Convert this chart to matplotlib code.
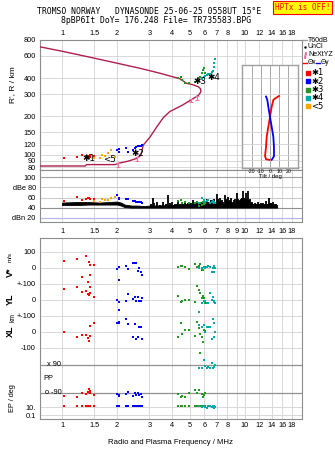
import matplotlib.pyplot as plt
from matplotlib.lines import Line2D

plt.rcParams['font.family'] = ['Liberation Sans', 'DejaVu Sans']

# ---------------- data ----------------
tick_f = [1, 1.5, 2, 3, 4, 5, 6, 7, 8, 9, 10, 12, 14, 16, 18]
lab_outer = ['1', '1.5', '2', '3', '4', '5', '6', '7', '8', '', '10', '12', '14', '16', '18']
lab_mid = ['1', '1.5', '2', '3', '4', '5', '6', '7', '8', '9', '10', '12', '14', '16', '18']
h_ticks = [80, 90, 100, 120, 150, 200, 300, 400, 600, 800]

# true-height profile (plasma frequency MHz, height km)
prof_f = [0.75, 1.34, 1.36, 1.95, 2.03, 2.30, 2.56, 2.70, 2.78, 3.03, 3.29, 3.58, 3.89,
          4.51, 5.01, 5.56, 5.74, 5.72, 5.56, 5.21, 4.80, 4.41, 3.43, 2.67, 1.61, 1.02, 0.75]
prof_h = [81.5, 81.5, 83.6, 83.6, 85.5, 89, 93.5, 99.3, 119, 138, 165, 196, 219,
          244, 267, 293, 312, 330, 343, 355, 365, 396, 438, 479, 563, 649, 709]
nex_f = [2.03, 2.56, 5.07, 5.48]
nex_h = [83, 93, 267, 280]
nex_err = [3, 3.5, 9, 9]

# echoes, class *1 (red)
red_f = [1.03, 1.20, 1.28, 1.36, 1.39, 1.41, 1.42, 1.43, 1.50]
red_h = [94.6, 96.3, 99.8, 97, 98, 95, 96, 99, 97]
red_dbe = [53, 62, 55, 57, 59, 59, 57, 58, 57]
red_v = [46, 56, -54, 77, -89, 37, 21, -42, 21]
red_yl = [69, 83, 52, 58, 37, 31, 42, 83, 21]
red_xl = [0, -29, -21, -19, -40, -54, 37, -25, 58]
red_pp = [-107, -118, -92, -96, -81, -62, -75, -88, -105]
red_ep = [20, 21, 19, 20, 22, 20, 19, 21, 20]

# class <5 (orange)
or_f = [1.50, 1.61, 1.65, 1.72, 1.79, 1.85, 1.95]
or_h = [94.6, 94.6, 100, 97.5, 104, 109, 96.3]
or_dbe = [53, 51, 57, 55, 55, 60, 62]

# class *2 (blue)
bl_f = [2.01, 2.04, 2.06, 2.23, 2.29, 2.45, 2.50, 2.54, 2.61, 2.65, 2.70, 2.74]
bl_h = [108.6, 110, 104.8, 112.9, 104.8, 108.8, 112, 114, 116.3, 117, 118, 119.5]
bl_dbe = [64, 60, 57, 58, 57, 54, 53, 52, 51, 52, 51, 50]
bl_v = [-8, 5, -75, 14, -8, 29, 30, 33, -17, -2, -23, -44]
bl_yl = [0, -10, -62, -6, 37, 6, 17, -4, 21, -6, -4, 10]
bl_xl = [58, 60, 55, 81, 50, -29, 50, -46, -29, 33, 29, -46]
bl_pp = [-95, -100, -110, -98, -85, -110, -92, -100, -88, -105, -95, -115]
bl_ep = [19, 21, 20, 19, 21, 20, 19, 21, 20, 19, 21, 20]

# class *3 (green)
gr_f = [4.30, 4.45, 4.55, 4.73, 4.97, 5.33, 5.48, 5.60, 5.67, 5.80, 5.91, 5.97, 6.04]
gr_h = [405, 411, 387, 365, 365, 372, 387, 405, 411, 436, 464, 481, 436]
gr_dbe = [53, 55, 50, 51, 49, 49, 52, 43, 50, 45, 51, 48, 50]
gr_v = [4, 14, 12, 8, -8, 25, 8, 14, 25, -12, -12, 4, 8]
gr_yl = [25, -15, -6, 0, 0, -15, 90, 62, 42, 10, 25, 10, -21]
gr_xl = [-33, 58, -15, 12, 12, -25, 64, 23, -15, -29, -60, 12, 5]
gr_pp = [-98, -114, -107, -114, -88, -71, -92, -71, 165, -98, -114, -100, -90]
gr_ep = [20, 21, 19, 20, 21, 20, 19, 21, 20, 19, 21, 20, 19]

# class *4 (cyan)
cy_f = [5.62, 5.80, 5.99, 6.04, 6.17, 6.29, 6.43, 6.57, 6.70, 6.75, 6.80, 6.85]
cy_h = [382, 395, 410, 419, 425, 430, 432, 445, 458, 492, 528, 568]
cy_dbe = [49, 59, 55, 52, 53, 55, 49, 52, 53, 50, 51, 49]
cy_v = [-2, -2, 8, -2, 8, 12, 8, -23, -2, -23, 12, -2]
cy_yl = [-73, -17, -6, -6, -21, -17, 42, 0, 17, -10, -6, -21]
cy_xl = [44, 33, 44, 2, 33, 29, 29, -46, 81, 54, -29, 0]
cy_pp = [69, 73, 122, 84, 73, 79, 69, 101, 69, 80, 75, 90]
cy_ep = [17, 8, 20, 12, 6, 18, 20, 9, 18, 7, 20, 12]

# class labels on the ionogram
cls_lab = ['✱1', '<5', '✱2', '✱3', '✱4']
cls_lab_f = [1.40, 1.83, 2.60, 5.67, 6.77]
cls_lab_h = [92.8, 92, 103, 377, 407]

# amplitude band (dB) and spikes
band_f = [1.0, 1.2, 1.4, 1.6, 1.8, 2.0, 2.1, 2.2, 2.4, 2.6, 2.8, 3.0, 4.0, 6.0, 8.0, 10.0, 12.0, 15.0]
band_lo = [45, 45, 46, 46, 46, 46, 44, 41, 40, 40, 40, 40, 40, 40, 40, 40, 40, 40]
band_hi = [50, 51, 51, 50, 51, 52, 50, 46, 44, 44, 43, 44, 45, 47, 48, 48, 46, 45]
spike_f = [3.05, 3.13, 3.2, 3.3, 3.45, 3.58, 3.7, 3.81, 3.9, 3.97,
           4.05, 4.15, 4.25, 4.32, 4.42, 4.5, 4.6, 4.7, 4.8, 4.9,
           5.0, 5.1, 5.21, 5.35, 5.5, 5.65, 5.8, 5.9, 6.05, 6.2,
           6.35, 6.5, 6.62, 6.75, 6.88, 7.0, 7.08, 7.15, 7.22, 7.3,
           7.4, 7.5, 7.62, 7.77, 7.86, 7.95, 8.03, 8.1, 8.2, 8.3,
           8.37, 8.44, 8.55, 8.7, 8.85, 9.0, 9.1, 9.2, 9.3, 9.38,
           9.5, 9.6, 9.7, 9.78, 9.9, 10.0, 10.1, 10.25, 10.4, 10.5,
           10.6, 10.75, 10.9, 11.1, 11.3, 11.55, 11.8, 12.0, 12.2, 12.4,
           12.6, 12.85, 13.1, 13.3, 13.5, 13.7, 13.9, 14.1, 14.3, 14.55,
           14.8]
spike_top = [47, 59, 50, 52, 46, 52, 47, 65, 50, 52,
             46, 48, 47, 55, 48, 50, 47, 52, 47, 49,
             47, 50, 55, 48, 50, 48, 52, 50, 53, 57,
             52, 56, 52, 58, 50, 67, 54, 58, 52, 59,
             53, 55, 51, 65, 55, 57, 52, 62, 54, 56,
             51, 59, 52, 55, 57, 69, 56, 57, 53, 55,
             58, 60, 55, 72, 60, 58, 69, 57, 72, 55,
             58, 50, 52, 48, 50, 47, 52, 48, 49, 47,
             50, 48, 53, 48, 59, 49, 50, 47, 52, 47,
             47]

# tilt inset
tx_h = [287, 274, 267, 236, 197, 165, 138, 115, 97.5, 92, 91]
tx_deg = [9.8, 5.4, 3.6, 1.8, 0, -1.8, -3.6, -4.3, -5.4, -4.3, -0.8]
ty_h = [284, 267, 236, 197, 165, 138, 115, 97, 91]
ty_deg = [-4.3, -2.9, -1.8, 0, 1.8, 3.6, 4.3, 4.3, 1.8]

RED, BLUE, GREEN, CYAN, ORANGE = '#ff0000', '#0000ff', '#229922', '#00aaaa', '#ffa500'
PROF, PINK = '#b0204c', '#f070a0'
GRID, FRAME = '#d2d2d2', '#8c8c8c'

# ---------------- layout ----------------
W, H = 335, 451
fig = plt.figure(figsize=(W / 100, H / 100), dpi=100)


def rect(x0, y0, x1, y1):
    return [x0 / W, 1 - y1 / H, (x1 - x0) / W, (y1 - y0) / H]


def ftext(x, y, s, **kw):
    kw.setdefault('fontsize', 5.3)
    fig.text(x / W, 1 - y / H, s, **kw)


XLIM = (0.758, 20.5)


def freq_axis(ax, labels):
    ax.set_xscale('log')
    ax.set_xlim(*XLIM)
    ax.set_xticks(tick_f)
    ax.set_xticklabels(labels)
    ax.minorticks_off()
    ax.tick_params(length=0, labelsize=5.3)
    for s in ax.spines.values():
        s.set_color(FRAME)
    for f in tick_f:
        ax.axvline(f, color=GRID, lw=0.6, zorder=0)


# title
ftext(149, 12, 'TROMSO NORWAY   DYNASONDE 25-06-25 0558UT 15°E', ha='center', va='center',
      family='DejaVu Sans Mono', fontsize=5.9)
ftext(156, 20.5, '8pBP6It DoY= 176.248 File= TR735583.BPG', ha='center', va='center',
      family='DejaVu Sans Mono', fontsize=5.9)
ftext(302.5, 7.5, 'HPTx is OFF!', ha='center', va='center', family='DejaVu Sans Mono',
      fontsize=5.5, color='red',
      bbox=dict(boxstyle='square,pad=0.2', facecolor='yellow', edgecolor='red', lw=0.8))

# ---- ionogram panel ----
ax1 = fig.add_axes(rect(40, 40, 302, 170))
ax1.set_yscale('log')
freq_axis(ax1, lab_outer)
ax1.xaxis.tick_top()
ax1.tick_params(axis='x', pad=2)
ax1.set_ylim(75.8, 786)
ax1.set_yticks(h_ticks)
ax1.set_yticklabels([str(t) for t in h_ticks])
ax1.minorticks_off()
ax1.tick_params(axis='y', length=0, pad=3)
for h in h_ticks:
    ax1.axhline(h, color=GRID, lw=0.6, zorder=0)
ax1.plot(prof_f, prof_h, color=PROF, lw=1.0, zorder=3)
ax1.errorbar(nex_f, nex_h, yerr=nex_err, fmt='none', ecolor=PINK, elinewidth=0.8,
             capsize=1.5, capthick=0.8, zorder=4)
for f, h, c in [(red_f, red_h, RED), (or_f, or_h, ORANGE), (bl_f, bl_h, BLUE),
                (gr_f, gr_h, GREEN), (cy_f, cy_h, CYAN)]:
    ax1.scatter(f, h, s=4, marker='s', c=c, lw=0, zorder=5)
for lab, f, h in zip(cls_lab, cls_lab_f, cls_lab_h):
    ax1.text(f, h, lab, fontsize=6.3, ha='center', va='center', color='black',
             family='DejaVu Sans', zorder=6)
fig.text(13 / W, 1 - 85 / H, "R', R / km", rotation=90, ha='center', va='center', fontsize=6)

# ---- amplitude panel ----
ax2 = fig.add_axes(rect(40, 170, 302, 222))
freq_axis(ax2, lab_mid)
ax2.tick_params(axis='x', pad=4)
ax2.set_ylim(11.4, 114.6)
ax2.set_yticks([20, 40, 60, 80, 100])
ax2.set_yticklabels(['dBn 20', '40', '60', 'dBe 80', '100'])
ax2.tick_params(axis='y', length=0, pad=3)
for y, c in [(100, '#a0a0a0'), (80, '#cccccc'), (60, '#cccccc'), (40, '#909090'), (20, '#b4b4e6')]:
    ax2.axhline(y, color=c, lw=0.8, zorder=0)
ax2.fill_between(band_f, band_lo, band_hi, color='black', lw=0.6, zorder=2)
ax2.vlines(spike_f, 40, spike_top, color='black', lw=1.3, zorder=2)
for f, d, c in [(red_f, red_dbe, RED), (or_f, or_dbe, ORANGE), (bl_f, bl_dbe, BLUE),
                (gr_f, gr_dbe, GREEN), (cy_f, cy_dbe, CYAN)]:
    ax2.scatter(f, d, s=4, marker='s', c=c, lw=0, zorder=5)

# ---- lower multi-band panel (y in pixel rows) ----
TOP, BOT = 238, 419
ax3 = fig.add_axes(rect(40, TOP, 302, BOT))
freq_axis(ax3, lab_outer)
ax3.tick_params(axis='x', pad=2)
ax3.set_ylim(BOT, TOP)
rows = [252, 268, 284, 300, 316, 332, 348, 407, 415]
ax3.set_yticks(rows)
ax3.set_yticklabels(['100', '0', '+-100', '0', '+-100', '0', '-100', '10.', '0.1'])
ax3.tick_params(axis='y', length=0, pad=3)
for r in rows:
    ax3.axhline(r, color=GRID, lw=0.6, zorder=0)
for r in (365, 393):
    ax3.axhline(r, color='#909090', lw=0.9, zorder=0)
ax3.set_xlabel('Radio and Plasma Frequency / MHz', fontsize=5.6, labelpad=7)
ax3.text(0.9, 365, 'x 90', fontsize=5.3, ha='center', va='center')
ax3.text(0.9, 393, 'o -90', fontsize=5.3, ha='center', va='center')
ax3.text(0.84, 379, 'PP', fontsize=5.3, ha='center', va='center')


def band(center_px, px_per_unit, log=False):
    b = ax3.inset_axes([0, 0, 1, 1])
    b.set_xscale('log')
    b.set_xlim(*XLIM)
    if log:
        b.set_yscale('log')
        b.set_ylim(10 ** (1 - (BOT - center_px) / px_per_unit),
                   10 ** (1 + (center_px - TOP) / px_per_unit))
    else:
        b.set_ylim((center_px - BOT) / px_per_unit, (center_px - TOP) / px_per_unit)
    b.axis('off')
    return b


bv = band(268, 0.16)
byl = band(300, 0.16)
bxl = band(332, 0.16)
bpp = band(365 + 90 * 28 / 180, 28 / 180)
bep = band(407, 4, log=True)
classes = [(red_f, red_v, red_yl, red_xl, red_pp, red_ep, RED),
           (bl_f, bl_v, bl_yl, bl_xl, bl_pp, bl_ep, BLUE),
           (gr_f, gr_v, gr_yl, gr_xl, gr_pp, gr_ep, GREEN),
           (cy_f, cy_v, cy_yl, cy_xl, cy_pp, cy_ep, CYAN)]
for f, v, yl, xl, pp, ep, c in classes:
    for b, vals in [(bv, v), (byl, yl), (bxl, xl), (bpp, pp), (bep, ep)]:
        b.scatter(f, vals, s=4, marker='s', c=c, lw=0)

ftext(10, 272, 'V*', rotation=90, ha='center', va='center', fontsize=6.5, weight='bold')
ftext(10, 257, 'm/s', rotation=90, ha='center', va='center', fontsize=4.5)
ftext(10, 299, 'YL', rotation=90, ha='center', va='center', fontsize=6.5, weight='bold')
ftext(13, 318, 'km', rotation=90, ha='center', va='center', fontsize=4.8)
ftext(10, 331, 'XL', rotation=90, ha='center', va='center', fontsize=6.5, weight='bold')
ftext(13, 398, 'EP / deg', rotation=90, ha='center', va='center', fontsize=5.3)

# ---- tilt inset ----
axi = fig.add_axes(rect(242, 65, 298, 168), zorder=8)
axi.set_yscale('log')
axi.set_xlim(-30.4, 30.4)
axi.set_ylim(78.6, 501)
axi.set_xticks([-20, -10, 0, 10, 20])
axi.set_xticklabels(['-20', '-10', '0', '10', '20'])
axi.set_yticks([])
axi.minorticks_off()
axi.tick_params(length=0, labelsize=3.8, pad=1)
axi.set_xlabel('Tilt / deg', fontsize=4.3, labelpad=0)
for s in axi.spines.values():
    s.set_color('#a0a0a0')
    s.set_linewidth(1.0)
for t in [-20, -10, 0, 10, 20]:
    axi.axvline(t, color='#9a9a9a', lw=0.6, zorder=0)
for h in h_ticks:
    axi.axhline(h, color=GRID, lw=0.6, zorder=0)
axi.plot(tx_deg, tx_h, color=RED, lw=1.3)
axi.plot(ty_deg, ty_h, color=BLUE, lw=1.3)

# ---- legend (right margin) ----
lx = 303


def seg(x0, x1, y, color, lw=1.0):
    fig.add_artist(Line2D([x0 / W, x1 / W], [1 - y / H, 1 - y / H], color=color, lw=lw))


seg(lx, lx + 4, 40, '#a0a0a0')
ftext(lx + 5, 40, 'T60dB', va='center', fontsize=5.0)
fig.add_artist(Line2D([(lx + 2) / W], [1 - 47 / H], marker='.', ms=1.5, color='black'))
ftext(lx + 5, 47, 'UnCl', va='center', fontsize=5.0)
fig.add_artist(Line2D([(lx + 2) / W], [1 - 55 / H], marker='$I$', ms=4, color=PINK))
ftext(lx + 5, 55, 'NeXtYZ', va='center', fontsize=5.0)
seg(lx, lx + 4, 63, RED)
ftext(lx + 4.5, 63, 'Θx', va='center', fontsize=4.8)
seg(lx + 13, lx + 17, 63, BLUE)
ftext(lx + 17.5, 63, 'Θy', va='center', fontsize=4.8)
for i, (lab, c) in enumerate([('✱1', RED), ('✱2', BLUE), ('✱3', GREEN), ('✱4', CYAN), ('<5', ORANGE)]):
    y = 72.7 + i * 8.4
    fig.add_artist(Line2D([(lx + 4.5) / W], [1 - y / H], marker='s', ms=2.2, color=c, lw=0))
    ftext(lx + 8.5, y, lab, va='center', fontsize=6.0, family='DejaVu Sans')

fig.savefig('out.png', dpi=100)
